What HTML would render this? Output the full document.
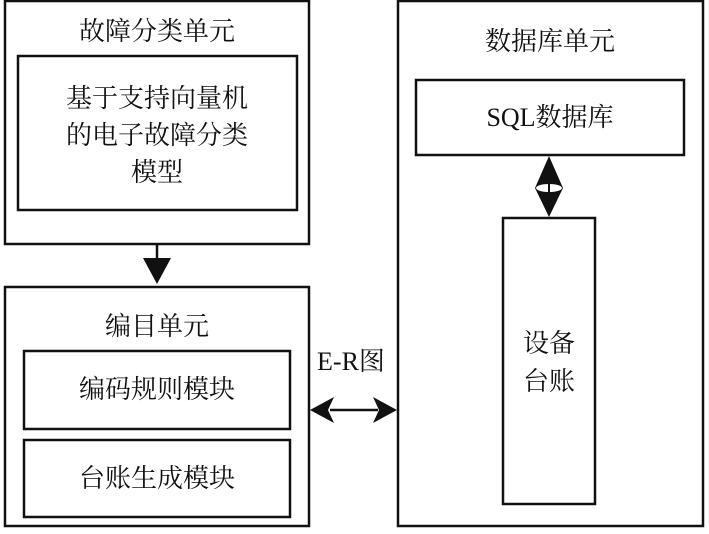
<!DOCTYPE html>
<html><head><meta charset="utf-8"><style>
body{margin:0;background:#fff;}
svg text{font-family:"Liberation Serif","Noto Serif CJK SC","Noto Sans CJK SC",serif;font-size:26px;fill:#111;}
</style></head><body>
<svg width="709" height="529" viewBox="0 0 709 529" xmlns="http://www.w3.org/2000/svg">
<g fill="none" stroke="#111" stroke-width="2.5">
<rect x="5" y="1" width="304" height="243"/>
<rect x="18" y="56" width="279" height="154"/>
<rect x="5" y="287" width="304" height="239"/>
<rect x="24" y="351" width="266" height="78"/>
<rect x="24" y="440" width="266" height="77"/>
<rect x="398" y="1" width="305" height="525"/>
<rect x="416" y="80" width="268" height="75"/>
<rect x="503" y="218" width="92" height="286"/>
<line x1="157" y1="244" x2="157" y2="262"/>
<line x1="330" y1="410" x2="378" y2="410"/>
</g>
<g fill="#111">
<polygon points="143,258 171,258 157,284"/>
<polygon points="310,410 334,397 328,410 334,423"/>
<polygon points="397,410 373,397 379,410 373,423"/>
<polygon points="549,156 563,188 535,188"/>
<polygon points="549,217 563,188 535,188"/>
</g>
<ellipse cx="549" cy="188" rx="13" ry="4" fill="#fff"/>
<line x1="549" y1="184" x2="549" y2="192" stroke="#111" stroke-width="2"/>
<g text-anchor="middle">
<text x="157" y="40">故障分类单元</text>
<text x="157" y="107">基于支持向量机</text>
<text x="157" y="144">的电子故障分类</text>
<text x="157" y="181">模型</text>
<text x="157" y="335">编目单元</text>
<text x="157" y="398">编码规则模块</text>
<text x="157" y="487">台账生成模块</text>
<text x="550" y="50">数据库单元</text>
<text x="550" y="126">SQL数据库</text>
<text x="549" y="352">设备</text>
<text x="549" y="390">台账</text>
<text x="351" y="370">E-R图</text>
</g>
</svg>
</body></html>
